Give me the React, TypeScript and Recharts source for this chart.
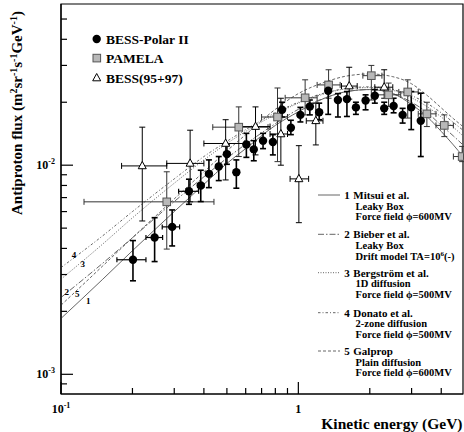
import React from 'react';
import { ComposedChart, Scatter, Line, XAxis, YAxis, ErrorBar, ReferenceArea } from 'recharts';

// ---------- axes ----------
const xDomain = [0.1, 4.94];
const yDomain = [8.05e-4, 0.059];
const xTicks = [0.1, 0.2, 0.3, 0.4, 0.5, 0.6, 0.7, 0.8, 0.9, 1, 2, 3, 4];
const yTicks = [9e-4, 1e-3, 2e-3, 3e-3, 4e-3, 5e-3, 6e-3, 7e-3, 8e-3, 9e-3, 1e-2, 2e-2, 3e-2, 4e-2, 5e-2];
const xTickLabels: Record<string, [string, string]> = { '0.1': ['10', '-1'], '1': ['1', ''] };
const yTickLabels: Record<string, [string, string]> = { '0.01': ['10', '-2'], '0.001': ['10', '-3'] };

// ---------- BESS-Polar II ----------
const bpE = [0.201, 0.248, 0.294, 0.346, 0.388, 0.42, 0.462, 0.5, 0.548, 0.604, 0.649, 0.71, 0.781, 0.854, 0.93, 1.02, 1.118, 1.224, 1.336, 1.468, 1.602, 1.748, 1.92, 2.1, 2.3, 2.52, 2.75, 2.99, 3.28];
const bpELo = [0.172, 0.228, 0.267, 0.313, 0.376, 0.408, 0.45, 0.488, 0.535, 0.59, 0.634, 0.694, 0.764, 0.835, 0.91, 0.998, 1.094, 1.198, 1.307, 1.437, 1.568, 1.711, 1.88, 2.056, 2.252, 2.467, 2.692, 2.927, 3.211];
const bpEHi = [0.228, 0.268, 0.316, 0.38, 0.4, 0.432, 0.474, 0.512, 0.561, 0.618, 0.664, 0.726, 0.798, 0.873, 0.95, 1.042, 1.142, 1.25, 1.365, 1.5, 1.636, 1.785, 1.96, 2.144, 2.348, 2.573, 2.808, 3.053, 3.349];
const bpFlux = [3.53e-3, 4.51e-3, 5.07e-3, 7.5e-3, 7.99e-3, 9.09e-3, 9.85e-3, 1.13e-2, 9.26e-3, 1.255e-2, 1.19e-2, 1.31e-2, 1.29e-2, 1.84e-2, 1.51e-2, 1.74e-2, 1.91e-2, 1.79e-2, 2.27e-2, 2.05e-2, 2.07e-2, 1.89e-2, 2.04e-2, 2.15e-2, 1.87e-2, 1.92e-2, 1.74e-2, 1.89e-2, 1.63e-2];
const bpFluxLo = [2.8e-3, 3.46e-3, 4.11e-3, 6.5e-3, 6.7e-3, 7.81e-3, 8.44e-3, 1.01e-2, 7.76e-3, 1.09e-2, 1.05e-2, 1.2e-2, 1.12e-2, 1.7e-2, 1.4e-2, 1.61e-2, 1.74e-2, 1.65e-2, 1.75e-2, 1.7e-2, 1.71e-2, 1.75e-2, 1.84e-2, 1.98e-2, 1.75e-2, 1.78e-2, 1.59e-2, 1.48e-2, 1.1e-2];
const bpFluxHi = [4.36e-3, 5.61e-3, 6.11e-3, 8.57e-3, 9.46e-3, 1.06e-2, 1.1e-2, 1.25e-2, 1.06e-2, 1.42e-2, 1.31e-2, 1.42e-2, 1.4e-2, 2.0e-2, 1.64e-2, 1.89e-2, 2.05e-2, 1.98e-2, 2.5e-2, 2.2e-2, 2.25e-2, 2.0e-2, 2.17e-2, 2.3e-2, 2.0e-2, 2.09e-2, 1.87e-2, 2.25e-2, 2.21e-2];

// ---------- PAMELA ----------
const pamE = [0.279, 0.561, 0.817, 1.068, 1.341, 2.03, 2.4, 2.89, 3.48, 4.12, 4.9];
const pamELo = [0.125, 0.436, 0.7, 0.88, 1.2, 1.87, 2.1, 2.65, 3.2, 3.8, 4.5];
const pamEHi = [0.441, 0.745, 0.9, 1.2, 1.5, 2.25, 2.7, 3.2, 3.8, 4.5, 4.94];
const pamFlux = [6.68e-3, 1.52e-2, 1.7e-2, 2.1e-2, 2.42e-2, 2.68e-2, 2.17e-2, 2.24e-2, 1.76e-2, 1.55e-2, 1.1e-2];
const pamFluxLo = [3.97e-3, 1.1e-2, 1.04e-2, 1.74e-2, 2.09e-2, 2.05e-2, 1.91e-2, 1.68e-2, 1.53e-2, 1.37e-2, 1.04e-2];
const pamFluxHi = [9.3e-3, 1.9e-2, 2.34e-2, 2.56e-2, 2.86e-2, 3.0e-2, 2.47e-2, 2.56e-2, 2.0e-2, 1.74e-2, 1.23e-2];

// ---------- BESS(95+97) ----------
const b9E = [0.22, 0.35, 0.494, 0.66, 0.844, 1.005, 1.185, 1.638, 2.3];
const b9ELo = [0.18, 0.279, 0.4, 0.56, 0.76, 0.923, 1.08, 1.52, 2.1];
const b9EHi = [0.279, 0.4, 0.594, 0.76, 0.9, 1.105, 1.27, 1.77, 2.5];
const b9Flux = [9.92e-3, 1.02e-2, 1.27e-2, 1.53e-2, 1.41e-2, 8.6e-3, 1.63e-2, 2.39e-2, 2.36e-2];
const b9FluxLo = [5.41e-3, 6.68e-3, 8.5e-3, 1.12e-2, 1.0e-2, 5.31e-3, 1.25e-2, 2.07e-2, 2.09e-2];
const b9FluxHi = [1.52e-2, 1.47e-2, 1.65e-2, 1.9e-2, 2.09e-2, 1.24e-2, 1.98e-2, 2.94e-2, 2.86e-2];

// ---------- model curves ----------
const curveE = [0.1, 0.15, 0.2, 0.3, 0.4, 0.5, 0.6, 0.8, 1.0, 1.3, 1.6, 2.0, 2.5, 3.0, 3.5, 4.0, 4.5, 4.94];
const mitsui = [1.85e-3, 2.85e-3, 3.9e-3, 6.0e-3, 8.1e-3, 1.02e-2, 1.2e-2, 1.55e-2, 1.8e-2, 2.1e-2, 2.25e-2, 2.3e-2, 2.2e-2, 1.95e-2, 1.7e-2, 1.45e-2, 1.25e-2, 1.1e-2];
const bieber = [2.33e-3, 3.4e-3, 4.5e-3, 6.7e-3, 8.8e-3, 1.08e-2, 1.26e-2, 1.58e-2, 1.85e-2, 2.1e-2, 2.25e-2, 2.3e-2, 2.2e-2, 2.0e-2, 1.78e-2, 1.55e-2, 1.38e-2, 1.25e-2];
const bergstrom = [2.85e-3, 4.2e-3, 5.6e-3, 8.2e-3, 1.06e-2, 1.27e-2, 1.45e-2, 1.75e-2, 1.98e-2, 2.2e-2, 2.32e-2, 2.35e-2, 2.28e-2, 2.1e-2, 1.9e-2, 1.7e-2, 1.52e-2, 1.38e-2];
const donato = [3.24e-3, 4.6e-3, 6.0e-3, 8.6e-3, 1.1e-2, 1.3e-2, 1.48e-2, 1.78e-2, 2.0e-2, 2.22e-2, 2.33e-2, 2.37e-2, 2.3e-2, 2.15e-2, 1.97e-2, 1.78e-2, 1.6e-2, 1.47e-2];
const galprop = [2.14e-3, 3.3e-3, 4.5e-3, 6.9e-3, 9.3e-3, 1.17e-2, 1.4e-2, 1.85e-2, 2.2e-2, 2.5e-2, 2.67e-2, 2.73e-2, 2.65e-2, 2.45e-2, 2.15e-2, 1.88e-2, 1.67e-2, 1.53e-2];

const FONT = '"Liberation Serif", "Times New Roman", serif';

function points(e: number[], eLo: number[], eHi: number[], f: number[], fLo: number[], fHi: number[]) {
  return e.map((x, i) => ({
    x,
    y: f[i],
    ex: [x - eLo[i], eHi[i] - x],
    ey: [f[i] - fLo[i], fHi[i] - f[i]],
  }));
}
const curve = (vals: number[]) => curveE.map((x, i) => ({ x, y: vals[i] }));

const bpData = points(bpE, bpELo, bpEHi, bpFlux, bpFluxLo, bpFluxHi);
const pamData = points(pamE, pamELo, pamEHi, pamFlux, pamFluxLo, pamFluxHi);
const b9Data = points(b9E, b9ELo, b9EHi, b9Flux, b9FluxLo, b9FluxHi);

const isMajor = (v: number) => Math.abs(Math.log10(v) - Math.round(Math.log10(v))) < 1e-6;

const XTick = (props: any) => {
  const { x, y, payload } = props;
  const v = payload.value;
  const len = isMajor(v) ? 12 : 6;
  const lab = xTickLabels[String(v)];
  return (
    <g>
      <line x1={x} x2={x} y1={y} y2={y - len} stroke="#000" strokeWidth={1.2} />
      {lab && (
        <text x={x} y={y + 19} textAnchor="middle" fontFamily={FONT} fontWeight="bold" fontSize={12} fill="#000">
          {lab[0]}
          {lab[1] && <tspan dy={-5} fontSize={8}>{lab[1]}</tspan>}
        </text>
      )}
    </g>
  );
};

const YTick = (props: any) => {
  const { x, y, payload } = props;
  const v = payload.value;
  const len = isMajor(v) ? 12 : 6;
  const lab = yTickLabels[String(v)];
  return (
    <g>
      <line x1={x} x2={x + len} y1={y} y2={y} stroke="#000" strokeWidth={1.2} />
      {lab && (
        <text x={x - 6} y={y + 4} textAnchor="end" fontFamily={FONT} fontWeight="bold" fontSize={12} fill="#000">
          {lab[0]}
          <tspan dy={-5} fontSize={8}>{lab[1]}</tspan>
        </text>
      )}
    </g>
  );
};

const Dot = (p: any) => <circle cx={p.cx} cy={p.cy} r={4.2} fill="#000" />;
const Square = (p: any) => (
  <rect x={p.cx - 3.8} y={p.cy - 3.8} width={7.6} height={7.6} fill="#b8b8b8" stroke="#555" strokeWidth={1} />
);
const Tri = (p: any) => (
  <path d={`M${p.cx},${p.cy - 4.5} L${p.cx + 4},${p.cy + 2.8} L${p.cx - 4},${p.cy + 2.8} Z`} fill="#fff" stroke="#000" strokeWidth={1} />
);

const curveStyles = [
  { name: '1', data: curve(mitsui), dash: undefined },
  { name: '2', data: curve(bieber), dash: '6 2 1.5 2' },
  { name: '3', data: curve(bergstrom), dash: '1 1.5' },
  { name: '4', data: curve(donato), dash: '2.5 2 1 2' },
  { name: '5', data: curve(galprop), dash: '3 2' },
];

const modelLegend = [
  { num: '1', cy: 195, dash: undefined, lines: ['Mitsui et al.', 'Leaky Box', 'Force field \u03d5=600MV'] },
  { num: '2', cy: 234.3, dash: '6 2 1.5 2', lines: ['Bieber et al.', 'Leaky Box', 'Drift model TA=10'] },
  { num: '3', cy: 272.7, dash: '1 1.5', lines: ['Bergstr\u00f6m et al.', '1D diffusion', 'Force field \u03d5=500MV'] },
  { num: '4', cy: 312.7, dash: '2.5 2 1 2', lines: ['Donato et al.', '2-zone diffusion', 'Force field \u03d5=500MV'] },
  { num: '5', cy: 351, dash: '3 2', lines: ['Galprop', 'Plain diffusion', 'Force field \u03d5=600MV'] },
];

const curveLabels = [
  { t: '4', x: 74, y: 255.3 },
  { t: '3', x: 82.7, y: 263.7 },
  { t: '2', x: 66.7, y: 292 },
  { t: '5', x: 77.3, y: 294.3 },
  { t: '1', x: 88.3, y: 301 },
];

export default function App() {
  return (
    <div style={{ position: 'absolute', left: 0, top: 0, width: 464, height: 432, background: '#fff' }}>
      <ComposedChart width={464} height={432} margin={{ top: 4, right: 1, bottom: 0, left: 0 }}>
        <XAxis
          dataKey="x"
          type="number"
          scale="log"
          domain={xDomain}
          allowDataOverflow
          ticks={xTicks}
          interval={0}
          tick={(p: any) => <XTick {...p} />}
          tickLine={false}
          tickSize={0}
          tickMargin={0}
          axisLine={{ stroke: '#000', strokeWidth: 1.2 }}
          height={38}
        />
        <YAxis
          dataKey="y"
          type="number"
          scale="log"
          domain={yDomain}
          allowDataOverflow
          ticks={yTicks}
          interval={0}
          tick={(p: any) => <YTick {...p} />}
          tickLine={false}
          tickSize={0}
          tickMargin={0}
          axisLine={{ stroke: '#000', strokeWidth: 1.2 }}
          width={61}
        />
        <ReferenceArea x1={xDomain[0]} x2={xDomain[1]} y1={yDomain[0]} y2={yDomain[1]} fill="none" fillOpacity={0} stroke="#000" strokeWidth={1.2} ifOverflow="visible" />
        {curveStyles.map((c) => (
          <Line
            key={c.name}
            data={c.data}
            dataKey="y"
            type="monotone"
            dot={false}
            stroke="#666"
            strokeWidth={1}
            strokeDasharray={c.dash}
            isAnimationActive={false}
          />
        ))}
        <Scatter data={pamData} dataKey="y" shape={Square} isAnimationActive={false}>
          <ErrorBar dataKey="ey" direction="y" width={3} stroke="#333" strokeWidth={1} />
          <ErrorBar dataKey="ex" direction="x" width={3} stroke="#333" strokeWidth={1} />
        </Scatter>
        <Scatter data={b9Data} dataKey="y" shape={Tri} isAnimationActive={false}>
          <ErrorBar dataKey="ey" direction="y" width={3} stroke="#000" strokeWidth={1} />
          <ErrorBar dataKey="ex" direction="x" width={3} stroke="#000" strokeWidth={1} />
        </Scatter>
        <Scatter data={bpData} dataKey="y" shape={Dot} isAnimationActive={false}>
          <ErrorBar dataKey="ey" direction="y" width={3} stroke="#000" strokeWidth={1.6} />
          <ErrorBar dataKey="ex" direction="x" width={2.5} stroke="#000" strokeWidth={1.2} />
        </Scatter>
      </ComposedChart>

      <svg width={464} height={432} style={{ position: 'absolute', left: 0, top: 0, pointerEvents: 'none' }} fontFamily={FONT} fontWeight="bold">
        {/* y axis title */}
        <text transform="translate(22,113) rotate(-90)" textAnchor="middle" fontSize={15} fill="#000">
          Antiproton flux (m<tspan dy={-5} fontSize={10}>2</tspan>
          <tspan dy={5}>sr</tspan>
          <tspan dy={-5} fontSize={10}>-1</tspan>
          <tspan dy={5}>s</tspan>
          <tspan dy={-5} fontSize={10}>-1</tspan>
          <tspan dy={5}>GeV</tspan>
          <tspan dy={-5} fontSize={10}>-1</tspan>
          <tspan dy={5}>)</tspan>
        </text>
        {/* x axis title */}
        <text x={462.5} y={429} textAnchor="end" fontSize={15.5} fill="#000">Kinetic energy (GeV)</text>

        {/* data legend */}
        <circle cx={96.7} cy={39} r={4.2} fill="#000" />
        <text x={106} y={43.5} fontSize={13.5} fill="#000">BESS-Polar II</text>
        <rect x={93} y={54.3} width={7.6} height={7.6} fill="#b8b8b8" stroke="#555" strokeWidth={1} />
        <text x={106} y={62.5} fontSize={13.5} fill="#000">PAMELA</text>
        <path d="M96.7,73.5 L100.7,80.8 L92.7,80.8 Z" fill="#fff" stroke="#000" strokeWidth={1} />
        <text x={106} y={82.5} fontSize={13.5} fill="#000">BESS(95+97)</text>

        {/* model legend */}
        {modelLegend.map((m) => (
          <g key={m.num}>
            <line x1={318} x2={340} y1={m.cy} y2={m.cy} stroke="#666" strokeWidth={1} strokeDasharray={m.dash} />
            <text x={344.3} y={m.cy + 4} fontSize={11} fill="#000">{m.num}</text>
            <text x={353.3} y={m.cy + 4} fontSize={11} fill="#000">{m.lines[0]}</text>
            <text x={355.5} y={m.cy + 14.5} fontSize={10.5} fill="#000">{m.lines[1]}</text>
            <text x={355.5} y={m.cy + 25.3} fontSize={10.5} fill="#000">
              {m.lines[2]}
              {m.num === '2' && (
                <>
                  <tspan dy={-4} fontSize={7}>6</tspan>
                  <tspan dy={4}>(-)</tspan>
                </>
              )}
            </text>
          </g>
        ))}

        {/* curve numbers */}
        {curveLabels.map((c) => (
          <text key={c.t} x={c.x} y={c.y + 3} textAnchor="middle" fontSize={9} fill="#000">{c.t}</text>
        ))}
      </svg>
    </div>
  );
}
